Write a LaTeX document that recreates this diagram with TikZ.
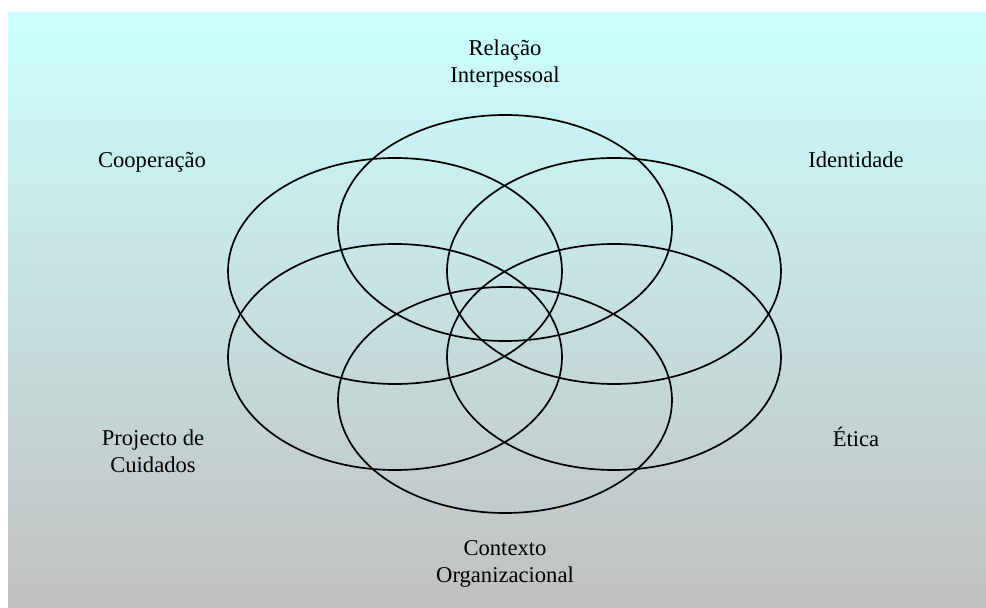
\documentclass[tikz,border=0pt]{standalone}
\usepackage{fontspec}
\setmainfont{Liberation Serif}
\usetikzlibrary{shapes.geometric}
\definecolor{paleaqua}{RGB}{204,255,255}
\definecolor{softgray}{RGB}{192,192,192}
\tikzset{
  ring/.style={draw,ellipse,line width=0.85pt,minimum width=167pt,minimum height=113pt,inner sep=0pt},
  lbl/.style={align=center,font=\fontsize{11.3}{13.5}\selectfont}
}
\begin{document}
\begin{tikzpicture}[x=0.5pt,y=-0.5pt]
\useasboundingbox (0,0) rectangle (986,608);
\shade[top color=paleaqua,bottom color=softgray] (8,13) rectangle (986,608);

% the six circles of care
\node[ring] (relacao) at (505,228) {};
\node[ring] (cooperacao) at (395,271) {};
\node[ring] (identidade) at (614,271) {};
\node[ring] (projecto) at (395,357) {};
\node[ring] (etica) at (614,357) {};
\node[ring] (contexto) at (505,400) {};

% labels
\node[lbl] (relacaolbl) at (505,64) {Relação\\Interpessoal};
\node[lbl] (cooplbl) at (152,162) {Cooperação};
\node[lbl] (identlbl) at (856,160) {Identidade};
\node[lbl] (projlbl) at (153,451) {Projecto de\\Cuidados};
\node[lbl] (eticalbl) at (856,437) {Ética};
\node[lbl] (contextolbl) at (505,564) {Contexto\\Organizacional};
\end{tikzpicture}
\end{document}
